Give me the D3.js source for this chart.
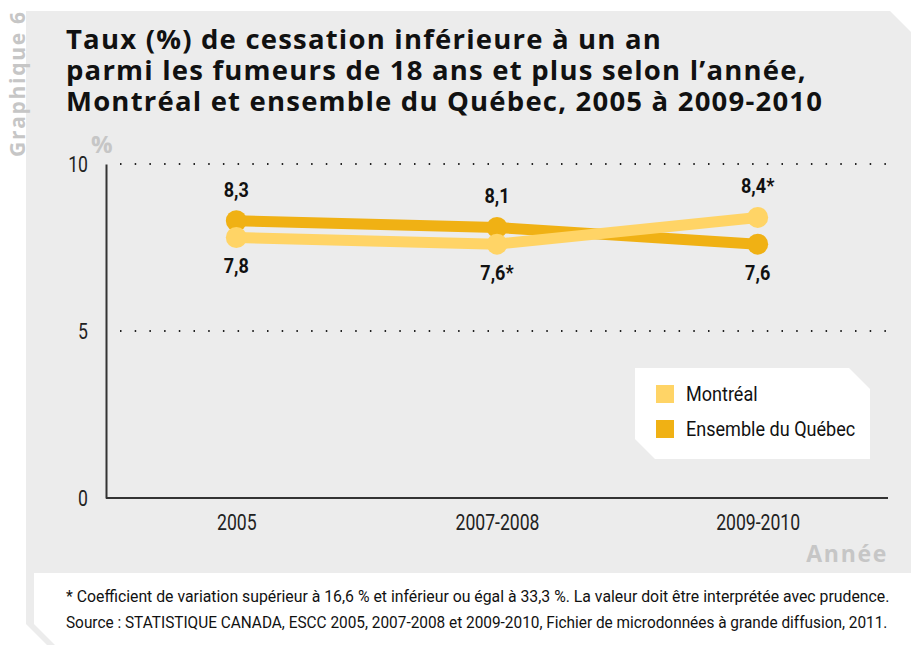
<!DOCTYPE html>
<html lang="fr">
<head>
<meta charset="UTF-8">
<title>Graphique 6</title>
<script src="https://cdnjs.cloudflare.com/ajax/libs/d3/7.8.5/d3.min.js"></script>
<style>
    body { margin: 0; background: #fff; }
    svg { display: block; }
    .narrow { font-family: Roboto, "Liberation Sans", sans-serif; }
    .wide { font-family: "Open Sans", "Noto Sans", sans-serif; font-weight: 700; }
</style>
</head>
<body>
<svg id="chart" width="911" height="645"></svg>
<script>
    const years = ["2005", "2007-2008", "2009-2010"];
    const montreal = [7.8, 7.6, 8.4];
    const quebec = [8.3, 8.1, 7.6];
    const montrealFlags = ["", "*", "*"];
    const quebecFlags = ["", "", ""];
    const yTicks = [0, 5, 10];
    const titleLines = [
        "Taux (%) de cessation inférieure à un an",
        "parmi les fumeurs de 18 ans et plus selon l’année,",
        "Montréal et ensemble du Québec, 2005 à 2009-2010"
    ];
    const notes = [
        "* Coefficient de variation supérieur à 16,6 % et inférieur ou égal à 33,3 %. La valeur doit être interprétée avec prudence.",
        "Source : STATISTIQUE CANADA, ESCC 2005, 2007-2008 et 2009-2010, Fichier de microdonnées à grande diffusion, 2011."
    ];

    const colMtl = "#ffd466", colQc = "#f0b114";
    const svg = d3.select("#chart");
    const SQUEEZE = 0.86;

    // pas de police condensée installée : on resserre horizontalement
    function condense(sel, f) {
        sel.each(function () {
            const t = d3.select(this);
            const x0 = +t.attr("x") || 0;
            t.attr("transform", `translate(${x0},0) scale(${f},1) translate(${-x0},0)`);
        });
    }
    function spreadTo(sel, width) {
        sel.each(function () {
            const w = this.getComputedTextLength();
            const n = this.textContent.length - 1;
            d3.select(this).attr("letter-spacing", (width - w) / n);
        });
    }

    // fond gris avec coins coupés
    svg.append("path")
        .attr("d", "M26,11 H890 L911,32 V645 H47 L26,624 Z")
        .attr("fill", "#ececec");
    svg.append("path")
        .attr("d", "M34,573 H911 V645 H55 L34,624 Z")
        .attr("fill", "#fff");

    const tag = svg.append("text")
        .attr("class", "wide")
        .attr("transform", "translate(25,157) rotate(-90)")
        .attr("font-size", 21)
        .attr("fill", "#c6c6c6")
        .text("Graphique 6");
    spreadTo(tag, 145);

    const title = svg.append("g").selectAll("text")
        .data(titleLines)
        .join("text")
        .attr("class", "wide")
        .attr("x", 66)
        .attr("y", (d, i) => 49 + i * 31)
        .attr("font-size", 27.5)
        .attr("fill", "#111")
        .text(d => d);
    // même interlettrage pour les trois lignes, calé sur la dernière
    const last = title.filter((d, i) => i === 2).node();
    const ls = (756 - last.getComputedTextLength()) / (titleLines[2].length - 1);
    title.attr("letter-spacing", ls);

    const x = d3.scalePoint().domain(years).range([106, 888]).padding(0.5);
    const y = d3.scaleLinear().domain([0, 10]).range([498, 164]);

    // grille pointillée
    svg.append("g").selectAll("line")
        .data(yTicks.filter(d => d > 0))
        .join("line")
        .attr("x1", 120).attr("x2", 888)
        .attr("y1", d => y(d)).attr("y2", d => y(d))
        .attr("stroke", "#222")
        .attr("stroke-width", 2)
        .attr("stroke-dasharray", "1.5,13.2");

    const yAxis = svg.append("g")
        .attr("transform", "translate(106,0)")
        .call(d3.axisLeft(y).tickValues(yTicks).tickSize(0).tickPadding(18));
    yAxis.select(".domain").attr("stroke", "#333").attr("stroke-width", 2);
    yAxis.selectAll("text").attr("class", "narrow").attr("font-size", 22).attr("fill", "#222")
        .call(condense, 0.8);

    const xAxis = svg.append("g")
        .attr("transform", "translate(0,498)")
        .call(d3.axisBottom(x).tickSize(0).tickPadding(16));
    xAxis.select(".domain").attr("d", "M106,0H888").attr("stroke", "#333").attr("stroke-width", 2);
    xAxis.selectAll("text").attr("class", "narrow").attr("font-size", 22).attr("fill", "#222")
        .call(condense, 0.8);

    svg.append("text").attr("class", "wide")
        .attr("x", 91).attr("y", 153)
        .attr("font-size", 24).attr("fill", "#c6c6c6")
        .text("%");
    const annee = svg.append("text").attr("class", "wide")
        .attr("x", 888).attr("y", 562).attr("text-anchor", "end")
        .attr("font-size", 23).attr("fill", "#c6c6c6")
        .text("Année");
    spreadTo(annee, 80);

    const line = d3.line().x((d, i) => x(years[i])).y(d => y(d));
    const series = [
        { values: quebec, flags: quebecFlags, color: colQc },
        { values: montreal, flags: montrealFlags, color: colMtl }
    ];

    series.forEach(s => {
        svg.append("path")
            .attr("d", line(s.values))
            .attr("fill", "none")
            .attr("stroke", s.color)
            .attr("stroke-width", 11);
        svg.append("g").selectAll("circle")
            .data(s.values)
            .join("circle")
            .attr("cx", (d, i) => x(years[i]))
            .attr("cy", d => y(d))
            .attr("r", 10.5)
            .attr("fill", s.color);
    });

    // étiquettes : au-dessus pour la série la plus haute
    series.forEach((s, k) => {
        const other = series[1 - k].values;
        svg.append("g").selectAll("text")
            .data(s.values)
            .join("text")
            .attr("class", "narrow")
            .attr("x", (d, i) => x(years[i]))
            .attr("y", (d, i) => d >= other[i] ? y(d) - 24 : y(d) + 36)
            .attr("text-anchor", "middle")
            .attr("font-size", 21)
            .attr("font-weight", 700)
            .attr("fill", "#111")
            .text((d, i) => d.toFixed(1).replace(".", ",") + s.flags[i])
            .call(condense, SQUEEZE);
    });

    // légende
    svg.append("path")
        .attr("d", "M635,368 H849 L870,389 V459 H655 L635,439 Z")
        .attr("fill", "#fff");
    const legend = svg.append("g").selectAll("g")
        .data([{ name: "Montréal", color: colMtl }, { name: "Ensemble du Québec", color: colQc }])
        .join("g")
        .attr("transform", (d, i) => `translate(656,${385 + i * 35})`);
    legend.append("rect").attr("width", 18).attr("height", 18).attr("fill", d => d.color);
    legend.append("text")
        .attr("class", "narrow")
        .attr("x", 30).attr("y", 16)
        .attr("font-size", 21).attr("fill", "#111")
        .text(d => d.name)
        .call(condense, SQUEEZE);

    // notes : resserrées pour tenir entre x=66 et x≈890
    svg.append("g").selectAll("text")
        .data(notes)
        .join("text")
        .attr("class", "narrow")
        .attr("x", 66)
        .attr("y", (d, i) => 602 + i * 26)
        .attr("font-size", 17)
        .attr("fill", "#111")
        .text(d => d)
        .each(function (d, i) {
            const w = this.getComputedTextLength();
            d3.select(this).call(condense, (i === 0 ? 824 : 822) / w);
        });
</script>
</body>
</html>
